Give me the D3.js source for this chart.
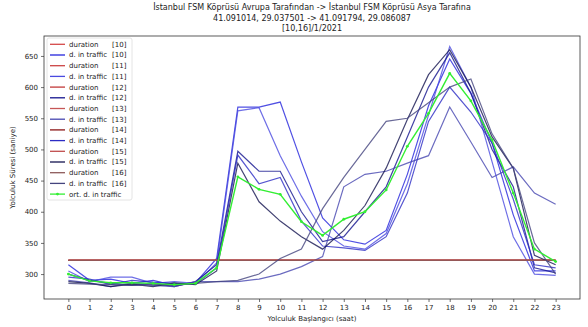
<!DOCTYPE html>
<html>
<head>
<meta charset="utf-8">
<script src="https://cdn.jsdelivr.net/npm/d3@7"></script>
<style>
  body { margin: 0; background: #fff; }
  svg text { font-family: "DejaVu Sans", sans-serif; fill: #222; }
</style>
</head>
<body>
<svg id="chart" width="588" height="327"></svg>
<script>
// Hours of day (x axis)
const hours = d3.range(0, 24);
const days = [10, 11, 12, 13, 14, 15, 16];

// Duration without traffic (seconds), one per day
const duration = [322, 322, 322, 322, 322, 322, 322];

// Duration in traffic (seconds), one array per day
const traffic10 = [315, 290, 292, 285, 290, 282, 286, 325, 568, 568, 576, 480, 390, 355, 348, 370, 460, 570, 645, 590, 510, 395, 305, 305];
const traffic11 = [305, 288, 295, 295, 285, 288, 285, 318, 562, 567, 490, 425, 368, 345, 340, 365, 445, 555, 665, 600, 480, 360, 300, 298];
const traffic12 = [300, 290, 285, 282, 285, 280, 288, 315, 497, 465, 465, 400, 352, 360, 400, 440, 520, 600, 655, 590, 500, 440, 310, 302];
const traffic13 = [290, 286, 280, 286, 282, 280, 288, 288, 288, 292, 300, 312, 328, 440, 460, 465, 478, 490, 568, 512, 455, 472, 430, 412];
const traffic14 = [295, 292, 283, 290, 287, 285, 284, 310, 491, 445, 455, 385, 345, 342, 338, 360, 430, 545, 600, 560, 510, 420, 315, 310];
const traffic15 = [288, 285, 280, 284, 280, 286, 283, 305, 478, 416, 385, 360, 340, 370, 410, 470, 548, 620, 660, 600, 520, 470, 330, 315];
const traffic16 = [285, 284, 283, 282, 283, 282, 285, 288, 290, 300, 325, 340, 405, 455, 500, 545, 550, 575, 600, 613, 525, 470, 350, 300];
const trafficSeries = [traffic10, traffic11, traffic12, traffic13, traffic14, traffic15, traffic16];

// Average duration in traffic
const avgTraffic = [300, 289, 286, 286, 285, 283, 285, 310, 456, 436, 428, 384, 362, 388, 400, 435, 505, 558, 622, 578, 515, 430, 340, 320];

const yTicks = [300, 350, 400, 450, 500, 550, 600, 650];

const durationColors = ['#d44848', '#cc4444', '#c23a3a', '#c65656', '#8b1515', '#c04c4c', '#8e5a5a'];
const trafficColors = ['#2424dc', '#4a4ae0', '#14148e', '#4646b0', '#2c2cc4', '#141450', '#44447e'];

const titleLines = [
    'İstanbul FSM Köprüsü Avrupa Tarafından -> İstanbul FSM Köprüsü Asya Tarafına',
    '41.091014, 29.037501 -> 41.091794, 29.086087',
    '[10,16]/1/2021'
];

const svg = d3.select('#chart');
const plot = { left: 44, right: 580, top: 36, bottom: 299 };

const x = d3.scaleLinear().domain([-1.15, 24.15]).range([plot.left, plot.right]);
const y = d3.scaleLinear().domain([260, 682]).range([plot.bottom, plot.top]);

// Title
svg.append('g').selectAll('text')
    .data(titleLines)
    .join('text')
    .attr('x', (plot.left + plot.right) / 2)
    .attr('y', (d, i) => 10 + i * 10.5)
    .attr('text-anchor', 'middle')
    .style('font-size', '8px')
    .text(d => d);

// Axes
const xAxis = svg.append('g')
    .attr('transform', `translate(0,${plot.bottom})`)
    .call(d3.axisBottom(x).tickValues(hours).tickSize(3).tickPadding(3).tickFormat(d3.format('d')));
const yAxis = svg.append('g')
    .attr('transform', `translate(${plot.left},0)`)
    .call(d3.axisLeft(y).tickValues(yTicks).tickSize(3).tickPadding(3));
[xAxis, yAxis].forEach(g => {
    g.select('.domain').remove();
    g.selectAll('line').attr('stroke', '#333').attr('stroke-width', 0.7);
    g.selectAll('text').style('font-size', '7px').style('font-family', '"DejaVu Sans", sans-serif').attr('fill', '#222');
});

// Frame
svg.append('rect')
    .attr('x', plot.left).attr('y', plot.top)
    .attr('width', plot.right - plot.left).attr('height', plot.bottom - plot.top)
    .attr('fill', 'none').attr('stroke', '#333').attr('stroke-width', 0.8);

// Axis labels
svg.append('text')
    .attr('x', (plot.left + plot.right) / 2).attr('y', 321)
    .attr('text-anchor', 'middle').style('font-size', '7px')
    .text('Yolculuk Başlangıcı (saat)');
svg.append('text')
    .attr('transform', `translate(15,${(plot.top + plot.bottom) / 2}) rotate(-90)`)
    .attr('text-anchor', 'middle').style('font-size', '7px')
    .text('Yolculuk Süresi (saniye)');

const line = d3.line().x((d, i) => x(hours[i])).y(d => y(d));
const lines = svg.append('g');

// Pairs drawn day by day: duration then traffic
days.forEach((day, k) => {
    lines.append('path')
        .datum(hours.map(() => duration[k]))
        .attr('d', line)
        .attr('fill', 'none')
        .attr('stroke', durationColors[k])
        .attr('stroke-width', 1.3)
        .attr('stroke-opacity', 0.85);
    lines.append('path')
        .datum(trafficSeries[k])
        .attr('d', line)
        .attr('fill', 'none')
        .attr('stroke', trafficColors[k])
        .attr('stroke-width', 1.2)
        .attr('stroke-opacity', 0.8);
});

// Average line with markers
lines.append('path')
    .datum(avgTraffic)
    .attr('d', line)
    .attr('fill', 'none')
    .attr('stroke', '#33ee33')
    .attr('stroke-width', 1.4);
lines.selectAll('circle.avg')
    .data(avgTraffic)
    .join('circle')
    .attr('class', 'avg')
    .attr('cx', (d, i) => x(hours[i]))
    .attr('cy', d => y(d))
    .attr('r', 1.4)
    .attr('fill', '#33ee33');

// Legend
const legendItems = [];
days.forEach((day, k) => {
    legendItems.push({ name: 'duration', day: `[${day}]`, color: durationColors[k] });
    legendItems.push({ name: 'd. in traffic', day: `[${day}]`, color: trafficColors[k] });
});
legendItems.push({ name: 'ort. d. in traffic', day: '', color: '#33ee33', marker: true });

const legend = svg.append('g');
legend.append('rect')
    .attr('x', 47).attr('y', 38)
    .attr('width', 85).attr('height', 162)
    .attr('rx', 2)
    .attr('fill', '#fff').attr('fill-opacity', 0.85)
    .attr('stroke', '#ddd').attr('stroke-width', 0.8);

const rows = legend.selectAll('g.row')
    .data(legendItems)
    .join('g')
    .attr('class', 'row')
    .attr('transform', (d, i) => `translate(0,${44.3 + i * 10.7})`);
rows.append('line')
    .attr('x1', 50).attr('x2', 65)
    .attr('stroke', d => d.color).attr('stroke-width', 1.3);
rows.filter(d => d.marker).append('circle')
    .attr('cx', 57.5).attr('r', 1.4).attr('fill', d => d.color);
rows.append('text')
    .attr('x', 69).attr('dy', '0.35em')
    .style('font-size', '7px')
    .text(d => d.name);
rows.append('text')
    .attr('x', 112).attr('dy', '0.35em')
    .style('font-size', '7px')
    .text(d => d.day);
</script>
</body>
</html>
